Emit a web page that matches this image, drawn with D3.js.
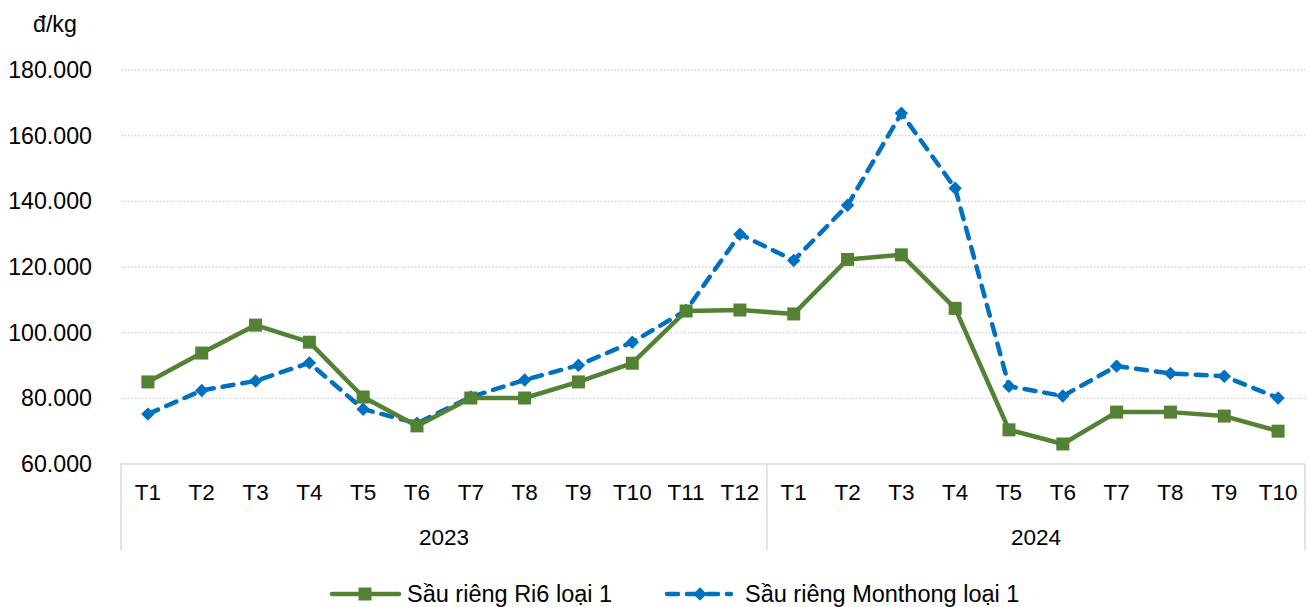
<!DOCTYPE html>
<html>
<head>
<meta charset="utf-8">
<script src="https://cdn.jsdelivr.net/npm/d3@7"></script>
<style>
  body { margin: 0; background: #fff; }
  text { font-family: "Liberation Sans", Arial, sans-serif; fill: #000; }
</style>
</head>
<body>
<svg id="chart" width="1309" height="607"></svg>
<script>
const years = ['2023', '2024'];
const months2023 = ['T1','T2','T3','T4','T5','T6','T7','T8','T9','T10','T11','T12'];
const months2024 = ['T1','T2','T3','T4','T5','T6','T7','T8','T9','T10'];
const ri6 = [85000, 93800, 102300, 97100, 80400, 71600, 80100, 80100, 85000, 90700, 106600, 106900,
             105700, 122300, 123700, 107400, 70400, 66100, 75800, 75800, 74600, 70000];
const monthong = [75200, 82400, 85300, 90800, 76700, 72400, 80400, 85600, 90100, 97100, 106800, 130000,
                  122000, 138800, 166800, 144000, 83700, 80700, 89800, 87600, 86700, 80100];
const yTicks = [60000, 80000, 100000, 120000, 140000, 160000, 180000];

const svg = d3.select('#chart');
const plotLeft = 121, plotRight = 1305, plotTop = 70, plotBottom = 464;

const cats = [
  ...months2023.map((m) => ({ year: '2023', month: m })),
  ...months2024.map((m) => ({ year: '2024', month: m }))
];
cats.forEach((c) => c.key = c.year + '-' + c.month);

const x = d3.scaleBand().domain(cats.map((c) => c.key)).range([plotLeft, plotRight]);
const y = d3.scaleLinear().domain([60000, 180000]).range([plotBottom, plotTop]);

const vn = d3.formatLocale({ decimal: ',', thousands: '.', grouping: [3], currency: ['', ''] });
const fmt = vn.format(',');

// grid
svg.append('g')
  .selectAll('line')
  .data(yTicks.slice(1))
  .join('line')
  .attr('x1', plotLeft).attr('x2', plotRight)
  .attr('y1', (d) => y(d)).attr('y2', (d) => y(d))
  .attr('stroke', '#d0d0d0')
  .attr('stroke-width', 1.3)
  .attr('stroke-dasharray', '1.5 2');

// y labels
svg.append('g')
  .selectAll('text')
  .data(yTicks)
  .join('text')
  .attr('x', 92)
  .attr('y', (d) => y(d))
  .attr('dy', '0.35em')
  .attr('text-anchor', 'end')
  .attr('font-size', 23.2)
  .text((d) => fmt(d));

svg.append('text')
  .attr('x', 33).attr('y', 32)
  .attr('font-size', 23.2)
  .text('đ/kg');

// x axis
const axisG = svg.append('g');
axisG.append('line')
  .attr('x1', plotLeft).attr('x2', plotRight)
  .attr('y1', plotBottom).attr('y2', plotBottom)
  .attr('stroke', '#d9d9d9').attr('stroke-width', 1.5);

const sepX = [plotLeft, x(cats[12].key), plotRight];
axisG.selectAll('line.sep')
  .data(sepX)
  .join('line')
  .classed('sep', true)
  .attr('x1', (d) => d).attr('x2', (d) => d)
  .attr('y1', plotBottom).attr('y2', 550)
  .attr('stroke', '#d9d9d9').attr('stroke-width', 1.5);

axisG.selectAll('text.month')
  .data(cats)
  .join('text')
  .classed('month', true)
  .attr('x', (d) => x(d.key) + x.bandwidth() / 2)
  .attr('y', 492)
  .attr('dy', '0.35em')
  .attr('text-anchor', 'middle')
  .attr('font-size', 22.5)
  .text((d) => d.month);

axisG.selectAll('text.year')
  .data(years)
  .join('text')
  .classed('year', true)
  .attr('x', (yr) => {
    const ks = cats.filter((c) => c.year === yr);
    return (x(ks[0].key) + x(ks[ks.length - 1].key) + x.bandwidth()) / 2;
  })
  .attr('y', 537)
  .attr('dy', '0.35em')
  .attr('text-anchor', 'middle')
  .attr('font-size', 22.5)
  .text((yr) => yr);

const cx = (i) => x(cats[i].key) + x.bandwidth() / 2;
const line = d3.line().x((d, i) => cx(i)).y((d) => y(d));

const green = '#548235', blue = '#0070C0';

// Monthong
svg.append('path')
  .datum(monthong)
  .attr('d', line)
  .attr('fill', 'none')
  .attr('stroke', blue)
  .attr('stroke-width', 4.5)
  .attr('stroke-dasharray', '11 9')
  .attr('stroke-linecap', 'round')
  .attr('stroke-linejoin', 'round');

// Ri6
svg.append('path')
  .datum(ri6)
  .attr('d', line)
  .attr('fill', 'none')
  .attr('stroke', green)
  .attr('stroke-width', 4.5)
  .attr('stroke-linejoin', 'round');

const diamond = d3.symbol().type(d3.symbolDiamond2).size(115);
svg.append('g')
  .selectAll('path')
  .data(monthong)
  .join('path')
  .attr('transform', (d, i) => `translate(${cx(i)},${y(d)})`)
  .attr('d', diamond)
  .attr('fill', blue);

svg.append('g')
  .selectAll('rect')
  .data(ri6)
  .join('rect')
  .attr('x', (d, i) => cx(i) - 6.5)
  .attr('y', (d) => y(d) - 6.5)
  .attr('width', 13).attr('height', 13)
  .attr('fill', green);

// legend
const legend = svg.append('g');
const ly = 594;
legend.append('line')
  .attr('x1', 332).attr('x2', 399).attr('y1', ly).attr('y2', ly)
  .attr('stroke', green).attr('stroke-width', 4.5).attr('stroke-linecap', 'round');
legend.append('rect')
  .attr('x', 365 - 6.5).attr('y', ly - 6.5).attr('width', 13).attr('height', 13)
  .attr('fill', green);
legend.append('text')
  .attr('x', 407).attr('y', ly).attr('dy', '0.35em')
  .attr('font-size', 23.5)
  .text('Sầu riêng Ri6 loại 1');

legend.append('line')
  .attr('x1', 667).attr('x2', 731).attr('y1', ly).attr('y2', ly)
  .attr('stroke', blue).attr('stroke-width', 4.5)
  .attr('stroke-dasharray', '11 9').attr('stroke-linecap', 'round');
legend.append('path')
  .attr('transform', `translate(700,${ly})`)
  .attr('d', diamond)
  .attr('fill', blue);
legend.append('text')
  .attr('x', 745).attr('y', ly).attr('dy', '0.35em')
  .attr('font-size', 23.5)
  .text('Sầu riêng Monthong loại 1');
</script>
</body>
</html>
